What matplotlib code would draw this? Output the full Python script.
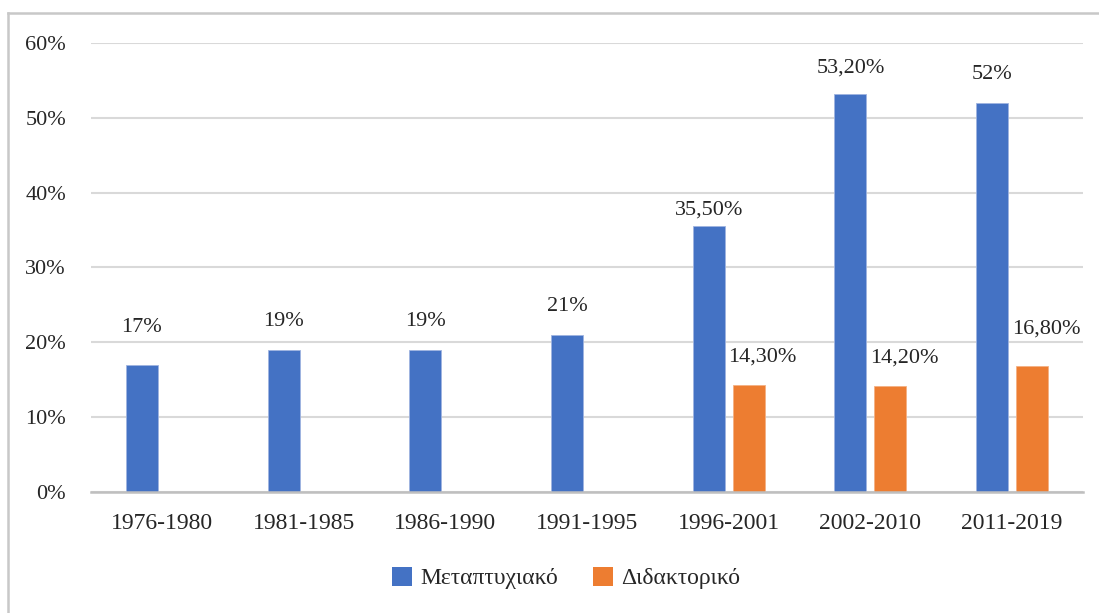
import numpy as np
import matplotlib
matplotlib.use('Agg')
import matplotlib.pyplot as plt
from matplotlib.lines import Line2D
from matplotlib.patches import Patch

periods = ['1976-1980', '1981-1985', '1986-1990', '1991-1995',
           '1996-2001', '2002-2010', '2011-2019']
master = [17, 19, 19, 21, 35.5, 53.2, 52]
phd = [np.nan, np.nan, np.nan, np.nan, 14.3, 14.2, 16.8]
series_names = ['Μεταπτυχιακό', 'Διδακτορικό']

BLUE = '#4472C4'
ORANGE = '#ED7D31'


def fmt(v):
    if float(v).is_integer():
        return f'{int(v)}%'
    return f'{v:.2f}%'.replace('.', ',')


def main():
    plt.rcParams['font.family'] = ['Liberation Serif', 'DejaVu Serif']
    fig = plt.figure(figsize=(10.99, 6.13), dpi=100)
    ax = fig.add_axes([0.0828, 0.1974, 0.9026, 0.7325])

    x = np.arange(len(periods))
    w = 0.226
    off = 0.141
    ax.bar(x - off, [v / 100 for v in master], width=w, color=BLUE,
           edgecolor='#9fb4e0', linewidth=0.6, zorder=3)
    ax.bar(x + off, [0 if np.isnan(v) else v / 100 for v in phd], width=w, color=ORANGE,
           edgecolor='#f4b183', linewidth=0.6, zorder=3)

    # label offsets in pixels above each bar top
    blue_dy = [37, 28, 28, 28, 16, 26, 28]
    orange_dy = [0, 0, 0, 0, 28, 28, 37]
    for i, v in enumerate(master):
        ax.annotate(fmt(v), (x[i] - off, v / 100), xytext=(0, blue_dy[i]),
                    textcoords='offset pixels', ha='center', va='center',
                    fontsize=16, color='#262626')
    for i, v in enumerate(phd):
        if np.isnan(v):
            continue
        ax.annotate(fmt(v), (x[i] + off, v / 100), xytext=(14, orange_dy[i]),
                    textcoords='offset pixels', ha='center', va='center',
                    fontsize=16, color='#262626')

    ax.set_xlim(-0.5, len(periods) - 0.5)
    ax.set_ylim(0, 0.6)
    yt = np.arange(0, 0.61, 0.1)
    ax.set_yticks(yt)
    ax.set_yticklabels([f'{int(round(t * 100))}%' for t in yt])
    ax.set_xticks(x)
    ax.set_xticklabels(periods)
    ax.tick_params(axis='both', length=0, colors='#262626')
    ax.tick_params(axis='y', pad=18, labelsize=16)
    ax.tick_params(axis='x', pad=15, labelsize=17)
    ax.grid(axis='y', color='#d9d9d9', linewidth=1.5, zorder=0)
    for s in ['top', 'right', 'left']:
        ax.spines[s].set_visible(False)
    ax.spines['bottom'].set_color('#bfbfbf')
    ax.spines['bottom'].set_linewidth(1.8)
    ax.spines['bottom'].set_zorder(4)

    handles = [Patch(facecolor=BLUE), Patch(facecolor=ORANGE)]
    fig.legend(handles, series_names, loc='center', bbox_to_anchor=(0.515, 0.057),
               ncol=2, frameon=False, fontsize=17, handlelength=0.85, handleheight=0.85,
               handletextpad=0.35, columnspacing=1.5)
    for t in fig.legends[0].get_texts():
        t.set_color('#262626')

    # outer chart border (top and left edges visible)
    fig.add_artist(Line2D([8 / 1099, 1.0], [1 - 13 / 613, 1 - 13 / 613], color='#c8c8c8', linewidth=1.8))
    fig.add_artist(Line2D([8 / 1099, 8 / 1099], [0, 1 - 13 / 613], color='#c8c8c8', linewidth=1.8))

    fig.savefig('out.png', dpi=100)


if __name__ == '__main__':
    main()
